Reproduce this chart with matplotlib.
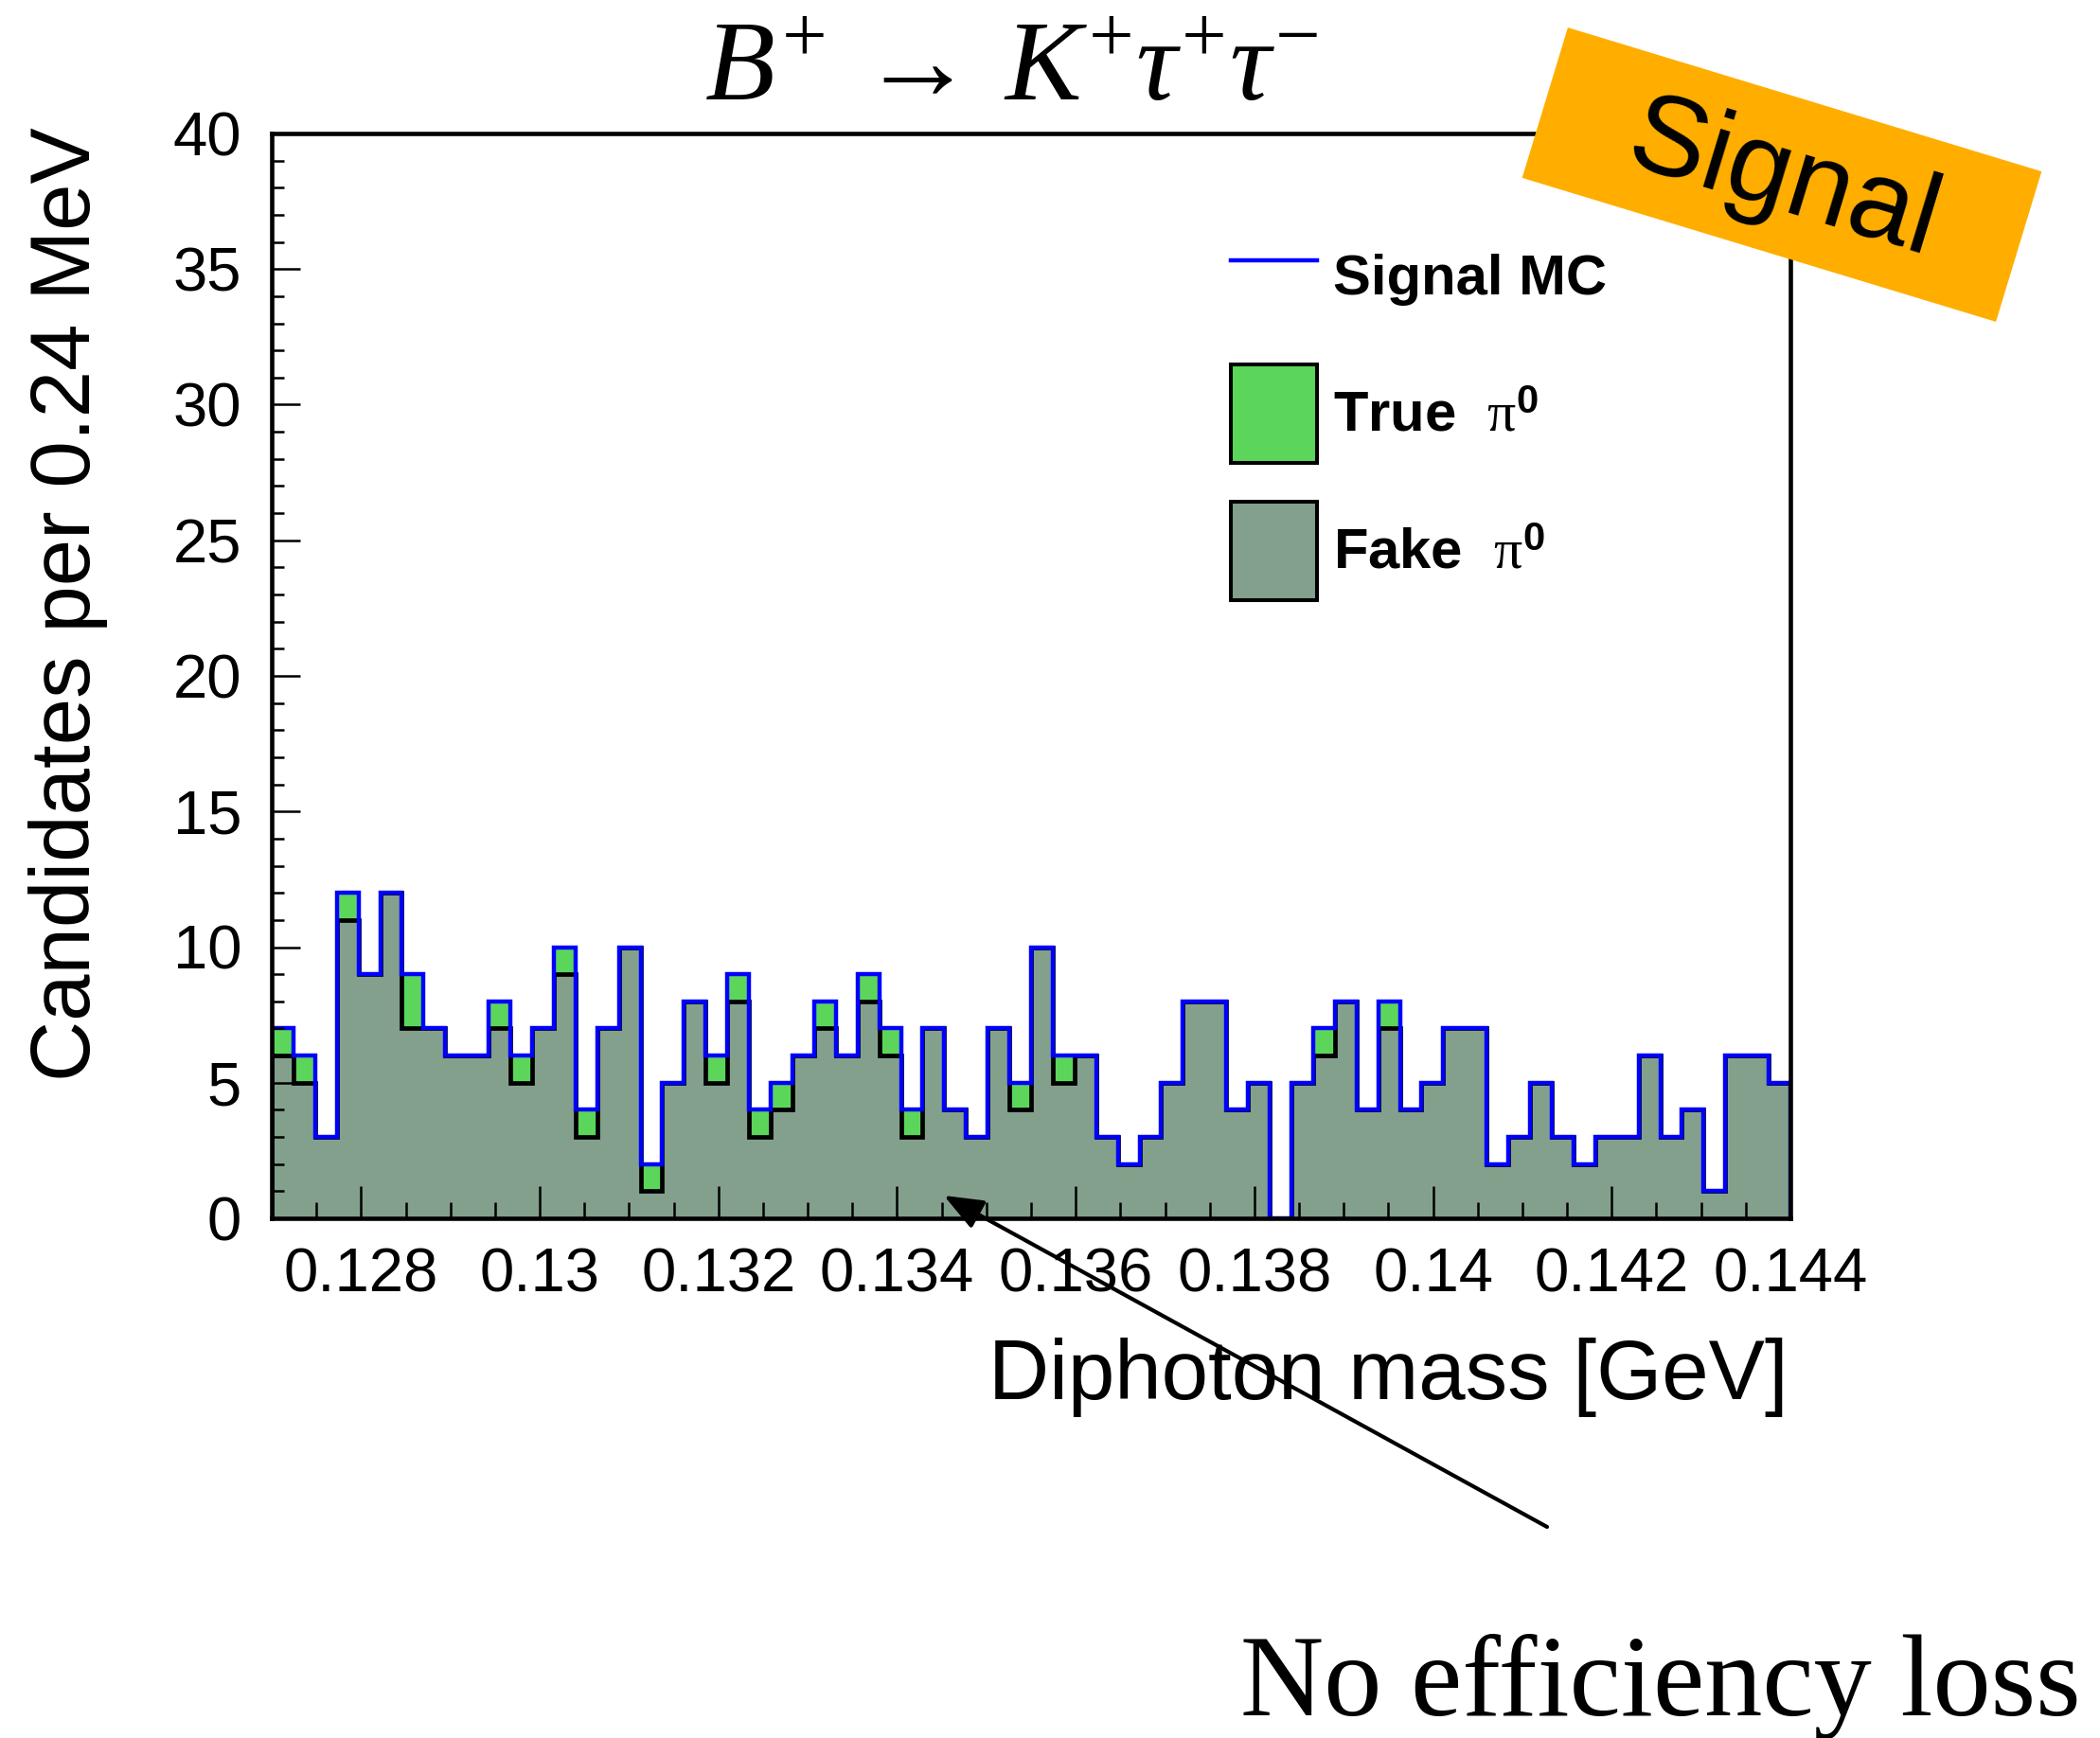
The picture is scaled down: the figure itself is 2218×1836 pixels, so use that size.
import matplotlib
matplotlib.use('Agg')
import matplotlib.pyplot as plt
from matplotlib.patches import Patch, Rectangle, FancyArrowPatch
from matplotlib.lines import Line2D
import numpy as np

plt.rcParams['font.family'] = ['Liberation Sans', 'DejaVu Sans']
plt.rcParams['mathtext.fontset'] = 'custom'
plt.rcParams['mathtext.rm'] = 'Liberation Serif'
plt.rcParams['mathtext.it'] = 'Liberation Serif:italic'
plt.rcParams['mathtext.bf'] = 'Liberation Sans:bold'

# ---------------- data ----------------
x_range = (0.127, 0.144)
n_bins = 70
fake_counts = [6, 5, 3, 11, 9, 12, 7, 7, 6, 6,
               7, 5, 7, 9, 3, 7, 10, 1, 5, 8,
               5, 8, 3, 4, 6, 7, 6, 8, 6, 3,
               7, 4, 3, 7, 4, 10, 5, 6, 3, 2,
               3, 5, 8, 8, 4, 5, 0, 5, 6, 8,
               4, 7, 4, 5, 7, 7, 2, 3, 5, 3,
               2, 3, 3, 6, 3, 4, 1, 6, 6, 5]
true_counts = [1, 1, 0, 1, 0, 0, 2, 0, 0, 0,
               1, 1, 0, 1, 1, 0, 0, 1, 0, 0,
               1, 1, 1, 1, 0, 1, 0, 1, 1, 1,
               0, 0, 0, 0, 1, 0, 1, 0, 0, 0,
               0, 0, 0, 0, 0, 0, 0, 0, 1, 0,
               0, 1, 0, 0, 0, 0, 0, 0, 0, 0,
               0, 0, 0, 0, 0, 0, 0, 0, 0, 0]
x_tick_values = [0.128, 0.130, 0.132, 0.134, 0.136, 0.138, 0.140, 0.142, 0.144]
x_tick_labels = ['0.128', '0.13', '0.132', '0.134', '0.136', '0.138', '0.14', '0.142', '0.144']
y_tick_values = [0, 5, 10, 15, 20, 25, 30, 35, 40]
legend_labels = ['Signal MC', r'True  $\mathrm{\pi}^{\mathbf{0}}$', r'Fake  $\mathrm{\pi}^{\mathbf{0}}$']
title_text = r'$B^{+}\,\rightarrow\,K^{+}\tau^{+}\tau^{-}$'
x_label = 'Diphoton mass [GeV]'
y_label = 'Candidates per 0.24 MeV'
note_text = 'No efficiency loss'
stamp_text = 'Signal'

# ---------------- style ----------------
FAKE_COLOR = '#83A08C'
TRUE_COLOR = '#5BD65B'
MC_COLOR = '#0000FF'
ORANGE = '#FFAE00'

W, H = 2218, 1836
fig = plt.figure(figsize=(W / 100, H / 100), dpi=100)
ax = fig.add_axes([287 / W, 1 - 1287 / H, (1891 - 287) / W, (1287 - 141) / H])

edges = np.linspace(x_range[0], x_range[1], n_bins + 1)
fake = np.array(fake_counts, dtype=float)
true = np.array(true_counts, dtype=float)
total = fake + true

ax.stairs(fake, edges, baseline=0, fill=True, facecolor=FAKE_COLOR,
          edgecolor='none', zorder=1.0)
ax.stairs(total, edges, baseline=fake, fill=True, facecolor=TRUE_COLOR,
          edgecolor='none', zorder=1.1)
ax.stairs(fake, edges, baseline=0, color='black', lw=3.4, joinstyle='miter', zorder=1.2)
ax.stairs(total, edges, baseline=0, color=MC_COLOR, lw=3.2, joinstyle='miter', zorder=1.3)

ax.set_xlim(*x_range)
ax.set_ylim(0, 40)
ax.set_xticks(x_tick_values)
ax.set_xticklabels(x_tick_labels)
ax.set_xticks(np.arange(0.1275, 0.1441, 0.0005), minor=True)
ax.set_yticks(y_tick_values)
ax.set_yticks(np.arange(0, 41, 1), minor=True)

ax.tick_params(axis='x', which='major', direction='in', length=24.5, width=1.8,
               labelsize=47, pad=22, top=False)
ax.tick_params(axis='x', which='minor', direction='in', length=12, width=1.8, top=False)
ax.tick_params(axis='y', which='major', direction='in', length=21.5, width=1.8,
               labelsize=47, pad=23, right=False)
ax.tick_params(axis='y', which='minor', direction='in', length=9.5, width=1.8, right=False)

for sp in ax.spines.values():
    sp.set_linewidth(3.3)
    sp.set_zorder(2.5)

ax.set_xlabel(x_label, fontsize=64, ha='right', va='baseline')
ax.xaxis.set_label_coords((1889 - 287) / (1891 - 287), (1287 - 1478) / (1287 - 141))
ax.set_ylabel(y_label, fontsize=64, ha='right', va='top')
ax.yaxis.set_label_coords((30 - 287) / (1891 - 287), (1287 - 134) / (1287 - 141))

handles = [Line2D([], [], color=MC_COLOR, lw=3.2),
           Patch(facecolor=TRUE_COLOR, edgecolor='black', lw=2.9),
           Patch(facecolor=FAKE_COLOR, edgecolor='black', lw=2.9)]
ax.legend(handles, legend_labels, loc='upper left',
          bbox_to_anchor=(1300 / W, 1 - 240 / H), bbox_transform=fig.transFigure,
          frameon=False, borderpad=0, borderaxespad=0,
          handlelength=1.53, handleheight=2.304, handletextpad=0.28,
          labelspacing=0.687,
          prop={'family': 'Liberation Sans', 'weight': 'bold', 'size': 43})

# title
fig.text(1068 / W, 1 - 106 / H, title_text, ha='center', va='baseline', fontsize=87)

# bottom note
fig.text(1310 / W, 1 - 1812 / H, note_text, ha='left', va='baseline', fontsize=88,
         family='Liberation Serif')

# arrow
arrow = FancyArrowPatch((1634 / W, 1 - 1613 / H), (997 / W, 1 - 1263 / H),
                        transform=fig.transFigure,
                        arrowstyle='-|>,head_length=0.5,head_width=0.2',
                        mutation_scale=50, lw=3.0, color='black',
                        shrinkA=0, shrinkB=0, zorder=5)
fig.add_artist(arrow)

# orange stamp
cx, cy = 1882 / 100, (H - 184.5) / 100
bw, bh = 5.23, 1.66
stamp = Rectangle((cx - bw / 2, cy - bh / 2), bw, bh, angle=-16.9,
                  rotation_point='center', transform=fig.dpi_scale_trans,
                  facecolor=ORANGE, edgecolor='none', zorder=4)
fig.add_artist(stamp)
fig.text(1884 / W, 1 - 192 / H, stamp_text, rotation=-16.9, rotation_mode='anchor',
         ha='center', va='center', fontsize=87, zorder=6)

fig.savefig('out.png', dpi=100)
